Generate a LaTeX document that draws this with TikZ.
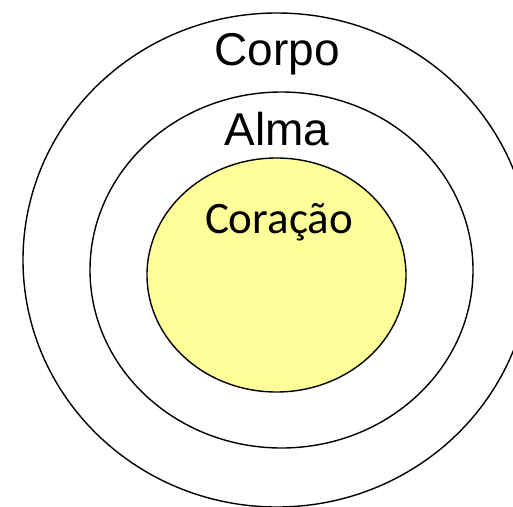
\documentclass[tikz,border=0pt]{standalone}
\usepackage{fontspec}
\setmainfont{Liberation Sans}
\newfontfamily\calib{Carlito}
\definecolor{heartfill}{HTML}{FFFF99}
\begin{document}
\begin{tikzpicture}[x=1pt,y=-1pt,
  ring/.style={draw=black,line width=1.4pt},
  lbl/.style={anchor=base,inner sep=0pt,font=\fontsize{46}{50}\selectfont}]
\useasboundingbox (0,0) rectangle (513,506);
\begin{scope}
\clip (0,0) rectangle (513,506);
\draw[ring] (277,260) ellipse [x radius=254,y radius=247];
\draw[ring] (281.5,270) ellipse [x radius=191.5,y radius=178];
\draw[ring,fill=heartfill] (276.5,275) ellipse [x radius=129.5,y radius=117];
\end{scope}
\node[lbl] (corpo) at (277,65) {Corpo};
\node[lbl] (alma) at (277,145) {Alma};
\node[lbl,font=\calib\fontsize{45}{50}\selectfont] (coracao) at (279,233) {Coração};
\end{tikzpicture}
\end{document}
